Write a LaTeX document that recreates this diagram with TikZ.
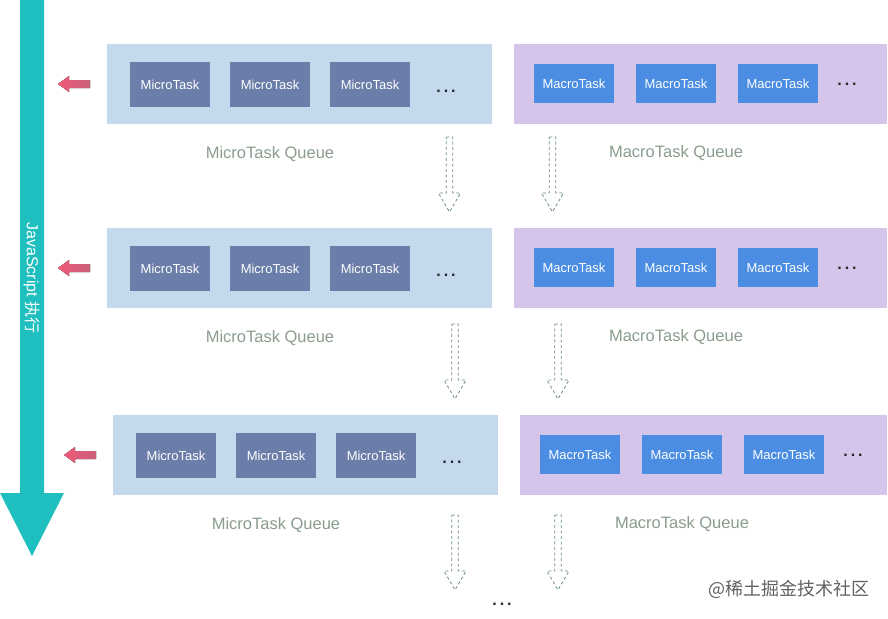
\documentclass[tikz,border=0pt]{standalone}
\usepackage{fontspec}
\setmainfont{Liberation Sans}
\newfontfamily\cjk{Noto Sans CJK SC}
\definecolor{teal1}{HTML}{1FBFBF}
\definecolor{microbg}{HTML}{C4DAEC}
\definecolor{microtask}{HTML}{6A7EA9}
\definecolor{macrobg}{HTML}{D6C5EA}
\definecolor{macrotask}{HTML}{4A8DE2}
\definecolor{qlabel}{HTML}{8A9C8C}
\definecolor{darrowc}{HTML}{6A8E80}
\definecolor{redl}{HTML}{F05A78}
\definecolor{redr}{HTML}{C8607A}
\tikzset{
  qbox/.style={draw=none, inner sep=0pt, anchor=north west},
  microq/.style={qbox, fill=microbg},
  macroq/.style={qbox, fill=macrobg},
  microt/.style={fill=microtask, text=white, minimum width=80pt, minimum height=45pt, inner sep=0pt, font=\fontsize{13}{15}\selectfont},
  macrot/.style={fill=macrotask, text=white, minimum width=80pt, minimum height=39pt, inner sep=0pt, font=\fontsize{13}{15}\selectfont},
  qlab/.style={text=qlabel, font=\fontsize{16.5}{18}\selectfont, inner sep=0pt},
  dotsl/.style={font=\fontsize{16}{18}\selectfont\bfseries, inner sep=0pt, text=black!85},
  darr/.style={draw=darrowc, dashed, dash pattern=on 3pt off 2.5pt, line width=0.8pt},
  redarr/.style={left color=redl, right color=redr, draw=none},
}
\newcommand\tdots{.\hspace{3pt}.\hspace{3pt}.}
\newcommand\hollowdown[4]{% name, x, ytop, ytip
  \coordinate (#1) at (#2,#3);
  \draw[darr] ({#2-3.2},#3) -- ({#2+3.2},#3) -- ({#2+3.2},{#4-19}) -- ({#2+11},{#4-19}) -- (#2,#4) -- ({#2-11},{#4-19}) -- ({#2-3.2},{#4-19}) -- cycle;}
\newcommand\redleft[3]{% name, xleft, y
  \coordinate (#1) at (#2,#3);
  \fill[redarr] (#2,#3) -- ({#2+11},{#3-8}) -- ({#2+11},{#3-4}) -- ({#2+32},{#3-4}) -- ({#2+32},{#3+4}) -- ({#2+11},{#3+4}) -- ({#2+11},{#3+8}) -- cycle;}
\begin{document}
\begin{tikzpicture}[x=1pt,y=-1pt]
\useasboundingbox (0,0) rectangle (888,618);
% JavaScript bar
\fill[teal1] (20,0) -- (44,0) -- (44,493) -- (64,493) -- (32,556) -- (0,493) -- (20,493) -- cycle;
\node[rotate=-90, text=white, font=\fontsize{16}{18}\selectfont, inner sep=0pt] (js) at (32,278) {JavaScript {\cjk 执行}};
% rows
\foreach \r/\dx/\dy in {1/0/0, 2/0/184, 3/6/371}{
  \node[microq, minimum width=385pt, minimum height=80pt] (mq\r) at ({107+\dx},{44+\dy}) {};
  \node[macroq, minimum width={373pt-\dx pt}, minimum height=80pt] (Mq\r) at ({514+\dx},{44+\dy}) {};
  \foreach \i/\xx in {1/170, 2/270, 3/370}{
    \node[microt] (mt\r-\i) at ({\xx+\dx},{84.5+\dy}) {MicroTask};
  }
  \foreach \i/\xx in {1/574, 2/676, 3/778}{
    \node[macrot] (Mt\r-\i) at ({\xx+\dx},{83.5+\dy}) {MacroTask};
  }
  \node[dotsl] (md\r) at ({446+\dx},{91.5+\dy}) {\tdots};
  \node[dotsl] (Md\r) at ({847+\dx},{84+\dy}) {\tdots};
  \node[qlab] (ml\r) at ({270+\dx},{154+\dy}) {MicroTask Queue};
  \node[qlab] (Ml\r) at ({676+\dx},{153+\dy}) {MacroTask Queue};
  \redleft{ra\r}{58+\dx}{84+\dy}
}
% dashed hollow arrows
\hollowdown{da1}{449.5}{137}{212}
\hollowdown{db1}{552.5}{137}{212}
\hollowdown{da2}{455}{324}{399}
\hollowdown{db2}{558}{324}{399}
\hollowdown{da3}{455}{515}{590}
\hollowdown{db3}{558}{515}{590}
\node[dotsl] (enddots) at (502,604) {\tdots};
\node[text=black!62, font=\cjk\fontsize{18}{20}\selectfont, inner sep=0pt] (wm) at (789,589) {@稀土掘金技术社区};
\end{tikzpicture}
\end{document}
